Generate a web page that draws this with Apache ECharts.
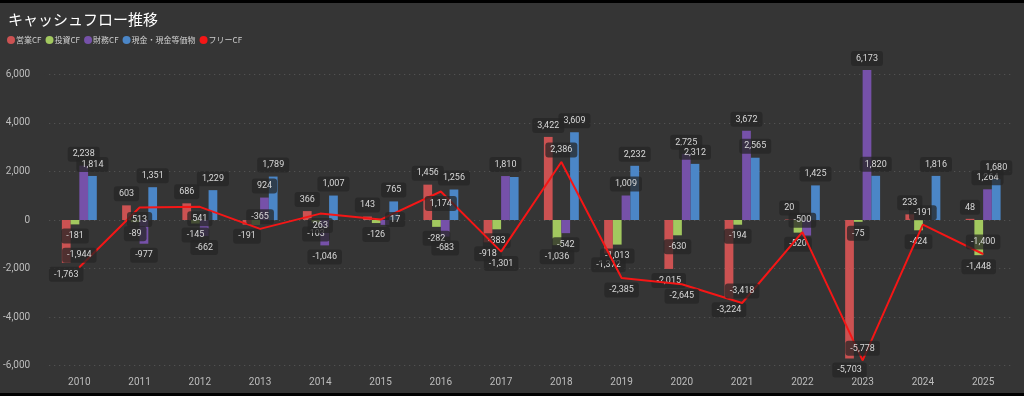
<!DOCTYPE html>
<html>
<head>
<meta charset="utf-8">
<script src="https://cdn.jsdelivr.net/npm/echarts@6/dist/echarts.min.js"></script>
<style>
  html, body { margin: 0; padding: 0; background: #000; }
  #cf { width: 1024px; height: 390px; margin-top: 3px; background: #353535; }
</style>
</head>
<body>
<div id="cf"></div>
<script>
  'use strict'

  var years = ['2010', '2011', '2012', '2013', '2014', '2015', '2016', '2017',
               '2018', '2019', '2020', '2021', '2022', '2023', '2024', '2025'];
  var operating = [-1763, 603, 686, -191, 366, 143, 1456, -918, 3422, -1372, -2015, -3224, 20, -5703, 233, 48];
  var investing = [-181, -89, -145, -174, -103, -126, -282, -383, -1036, -1013, -630, -194, -520, -75, -424, -1448];
  var financing = [2238, -977, -662, 924, -1046, -200, -683, 1810, -542, 1009, 2725, 3672, -640, 6173, null, 1264];
  var cash = [1814, 1351, 1229, 1789, 1007, 765, 1256, 1770, 3609, 2232, 2312, 2565, 1425, 1820, 1816, 1680];
  var freeCF = [-1944, 513, 541, -365, 263, 17, 1174, -1301, 2386, -2385, -2645, -3418, -500, -5778, -191, -1400];
  var yTicks = [-6000, -4000, -2000, 0, 2000, 4000, 6000];

  // labels the original hides
  var noLabel = { '投資CF': [3], '財務CF': [5, 12], '現金・現金等価物': [7] };
  // which side of the point the free-CF label sits on
  var freeSide = ['top', 'bottom', 'bottom', 'top', 'bottom', 'right', 'bottom', 'bottom',
                  'top', 'bottom', 'bottom', 'top', 'top', 'top', 'top', 'top'];

  var labelStyle = {
    show: true,
    color: '#d8d8d8',
    fontSize: 9,
    fontFamily: 'Roboto',
    backgroundColor: 'rgba(38,38,38,0.75)',
    padding: [3, 5],
    borderRadius: 3,
    distance: 4,
    formatter: function (p) {
      return p.value == null ? '' : Number(p.value).toLocaleString('en-US');
    }
  };

  function items(name, arr, sides) {
    var hidden = noLabel[name] || [];
    return arr.map(function (v, i) {
      var pos = sides ? sides[i] : (v < 0 ? 'bottom' : 'top');
      return { value: v, label: { show: hidden.indexOf(i) < 0, position: pos } };
    });
  }

  function barSeries(name, arr, color) {
    return {
      name: name,
      type: 'bar',
      data: items(name, arr),
      barGap: '0%',
      barCategoryGap: '42%',
      clip: false,
      itemStyle: { color: color },
      label: labelStyle
    };
  }

  var chart = echarts.init(document.getElementById('cf'));

  var option = {
    backgroundColor: '#353535',
    animation: false,
    title: {
      text: 'キャッシュフロー推移',
      left: 3,
      top: 4,
      textStyle: { color: '#ffffff', fontSize: 15, fontWeight: 'normal', fontFamily: 'Noto Sans CJK JP' }
    },
    legend: {
      left: 2,
      top: 28,
      icon: 'circle',
      itemWidth: 8,
      itemHeight: 8,
      itemGap: 4,
      textStyle: { color: '#cfcfcf', fontSize: 8, fontFamily: 'Noto Sans CJK JP', padding: [0, 0, 0, -4] },
      data: ['営業CF', '投資CF', '財務CF', '現金・現金等価物', 'フリーCF']
    },
    grid: {
      top: 71.3,
      bottom: 27.3,
      left: 44.75,
      right: 10.75
    },
    xAxis: {
      type: 'category',
      data: years,
      axisLine: { show: false, onZero: false },
      axisTick: { show: false },
      axisLabel: { color: '#bdbdbd', fontSize: 10, fontFamily: 'Roboto', margin: 12 }
    },
    yAxis: {
      type: 'value',
      min: yTicks[0],
      max: yTicks[yTicks.length - 1],
      interval: 2000,
      axisLine: { show: false },
      axisTick: { show: false },
      splitLine: { lineStyle: { color: '#5a5a5a', type: [1, 4], width: 1 } },
      axisLabel: {
        color: '#bdbdbd',
        fontSize: 10,
        fontFamily: 'Roboto',
        margin: 19,
        formatter: function (v) { return v.toLocaleString('en-US'); }
      }
    },
    series: [
      barSeries('営業CF', operating, '#cc5252'),
      barSeries('投資CF', investing, '#a2c85f'),
      barSeries('財務CF', financing, '#7651a9'),
      barSeries('現金・現金等価物', cash, '#4b86c7'),
      {
        name: 'フリーCF',
        type: 'line',
        data: items('フリーCF', freeCF, freeSide),
        symbol: 'circle',
        symbolSize: 1,
        showSymbol: true,
        z: 5,
        itemStyle: { color: '#f51616' },
        lineStyle: { color: '#f51616', width: 2 },
        label: labelStyle
      }
    ]
  };

  chart.setOption(option);
  window.addEventListener('resize', function () {
    chart.resize();
  })
</script>
</body>
</html>
